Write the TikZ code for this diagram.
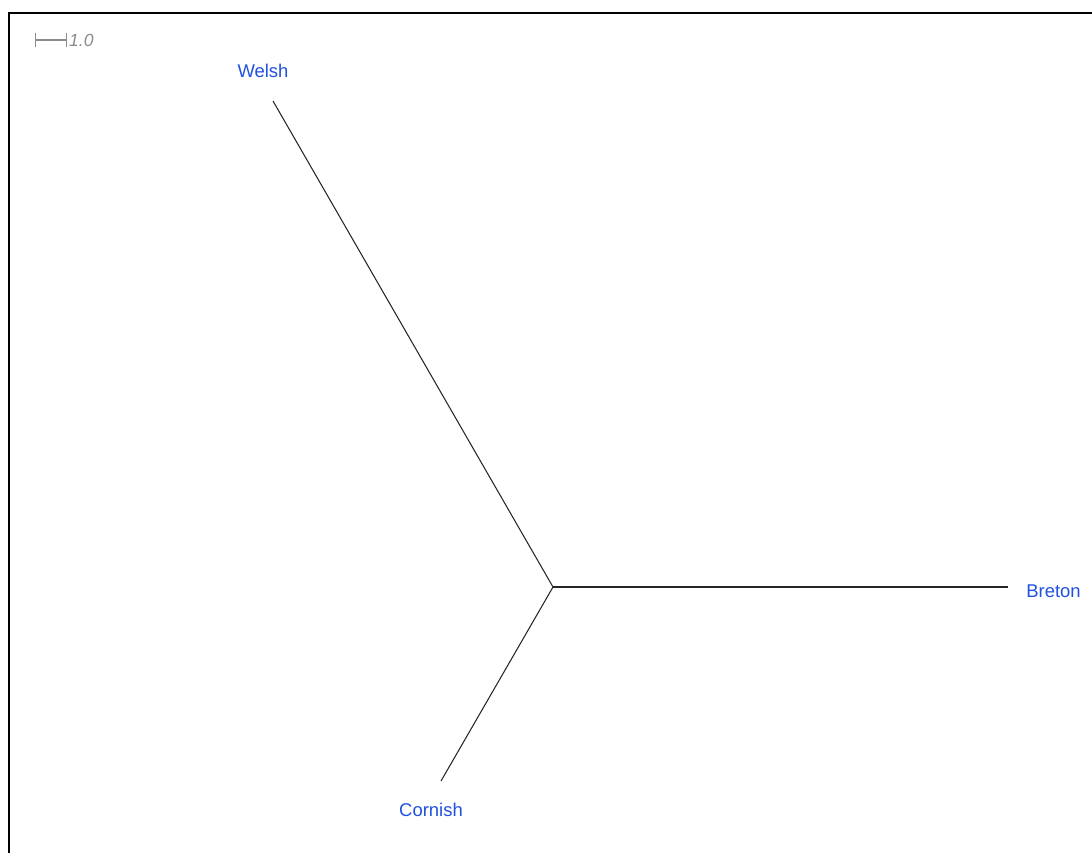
\documentclass[tikz,border=0pt]{standalone}
\usepackage{fontspec}
\setmainfont{Liberation Sans}
\usepackage{xcolor}
\usetikzlibrary{arrows.meta,positioning}
\definecolor{Taxon}{HTML}{2050E0}
\definecolor{Scale}{HTML}{8C8C8C}

\begin{document}
\begin{tikzpicture}[x=0.02cm,y=-0.02cm,
    taxon/.style={text=Taxon,font=\fontsize{10.5}{12}\selectfont,inner sep=0pt},
    edge/.style={line width=0.6pt,black!85},
    every node/.style={align=center}]
  \useasboundingbox (0,0) rectangle (1092,852);
  \clip (0,0) rectangle (1092,852);
  % frame
  \draw[line width=1.5pt] (9,13) rectangle (1120,880);
  % scale bar
  \coordinate (s0) at (35,40);
  \coordinate (s1) at (67,40);
  \draw[Scale,line width=0.6pt,{Bar[width=8pt]}-{Bar[width=8pt]}] (s0)--(s1);
  \node[right=1pt of s1,inner sep=0pt,text=Scale,font=\fontsize{10}{12}\selectfont\itshape] (unit) {1.0};
  % tree
  \coordinate (root) at (553,587);
  \coordinate (w) at (273,101);
  \coordinate (b) at (1008,587);
  \coordinate (c) at (441,781);
  \draw[edge] (root)--(w);
  \draw[edge] (root)--(b);
  \draw[edge] (root)--(c);
  \node[taxon] (welsh) at (263,71) {Welsh};
  \node[taxon,anchor=west] (breton) at (1026,591) {Breton};
  \node[taxon] (cornish) at (431,810) {Cornish};
\end{tikzpicture}
\end{document}
